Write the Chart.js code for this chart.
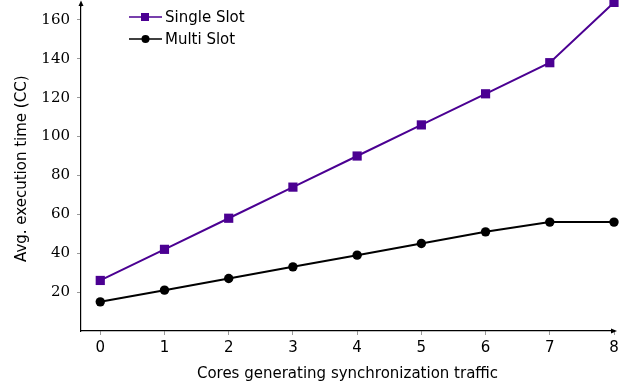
<!DOCTYPE html>
<html><head><meta charset="utf-8">
<script src="https://cdn.jsdelivr.net/npm/chart.js@4/dist/chart.umd.min.js"></script>
<style>html,body{margin:0;padding:0;background:#fff}#wrap{width:632px;height:387px}</style>
</head><body><div id="wrap"><canvas id="c"></canvas></div>
<script>
const categories = [0, 1, 2, 3, 4, 5, 6, 7, 8];
const singleSlot = [26, 42, 58, 74, 90, 106, 122, 138, 169];
const multiSlot = [15, 21, 27, 33, 39, 45, 51, 56, 56];
const yTicks = [20, 40, 60, 80, 100, 120, 140, 160];
const seriesNames = ['Single Slot', 'Multi Slot'];
const purple = '#4b0092';

const arrows = {
  id: 'arrows',
  afterDraw(chart) {
    const ctx = chart.ctx, a = chart.chartArea;
    ctx.save();
    ctx.fillStyle = '#000';
    ctx.strokeStyle = '#000'; ctx.lineWidth = 1.2;
    ctx.beginPath(); ctx.moveTo(a.left, a.top); ctx.lineTo(a.left, 4); ctx.stroke();
    ctx.beginPath();
    ctx.moveTo(a.left, 0.5); ctx.lineTo(a.left - 2.5, 6); ctx.lineTo(a.left + 2.5, 6); ctx.closePath(); ctx.fill();
    ctx.beginPath();
    ctx.moveTo(a.right + 3, a.bottom); ctx.lineTo(a.right - 3, a.bottom - 2.5); ctx.lineTo(a.right - 3, a.bottom + 2.5); ctx.closePath(); ctx.fill();
    const items = [{c: purple, s: 'rect', y: 17}, {c: '#000', s: 'circle', y: 39}];
    ctx.font = '15px "DejaVu Sans", sans-serif';
    ctx.textBaseline = 'middle';
    items.forEach((it, i) => {
      ctx.strokeStyle = it.c; ctx.lineWidth = 1.3;
      ctx.beginPath(); ctx.moveTo(129, it.y); ctx.lineTo(162, it.y); ctx.stroke();
      ctx.fillStyle = it.c;
      if (it.s === 'rect') ctx.fillRect(141, it.y - 4, 8, 8);
      else { ctx.beginPath(); ctx.arc(145.5, it.y, 4, 0, Math.PI * 2); ctx.fill(); }
      ctx.fillStyle = '#000';
      ctx.fillText(seriesNames[i], 165, it.y + 1);
    });
    ctx.restore();
  }
};

new Chart(document.getElementById('c'), {
  type: 'line',
  data: {
    datasets: [
      { label: seriesNames[0], data: categories.map((x, i) => ({x, y: singleSlot[i]})), borderColor: purple, backgroundColor: purple, borderWidth: 2, pointStyle: 'rect', pointRadius: 6.5, pointHoverRadius: 6.5, pointBorderWidth: 0, clip: false },
      { label: seriesNames[1], data: categories.map((x, i) => ({x, y: multiSlot[i]})), borderColor: '#000', backgroundColor: '#000', borderWidth: 2, pointStyle: 'circle', pointRadius: 4.7, pointHoverRadius: 4.7, pointBorderWidth: 0, clip: false }
    ]
  },
  options: {
    responsive: true, maintainAspectRatio: false, animation: false,
    layout: { padding: { top: 0, right: 18, left: 0, bottom: 0 } },
    plugins: { legend: { display: false }, tooltip: { enabled: false } },
    scales: {
      x: {
        type: 'linear', min: -0.3, max: 8,
        afterFit(s) { s.height = 56; s.paddingLeft = 0; s.paddingRight = 0; },
        afterBuildTicks(s) { s.ticks = categories.map(v => ({value: v})); },
        border: { display: true, color: '#000', width: 1.2 },
        grid: { drawOnChartArea: false, drawTicks: true, tickLength: 4, color: '#999' },
        ticks: { color: '#000', padding: 4, font: { family: '"DejaVu Sans", sans-serif', size: 15 } },
        title: { display: true, text: 'Cores generating synchronization traffic', color: '#000', font: { family: '"DejaVu Sans", sans-serif', size: 15 }, padding: { top: 4, bottom: 4 } }
      },
      y: {
        min: 0, max: 166.9,
        afterFit(s) { s.width = 81; s.paddingTop = 0; s.paddingBottom = 0; },
        afterBuildTicks(s) { s.ticks = yTicks.map(v => ({value: v})); },
        border: { display: true, color: '#000', width: 1.2 },
        grid: { drawOnChartArea: false, drawTicks: true, tickLength: 4, color: '#999' },
        ticks: { color: '#000', padding: 7, font: { family: '"DejaVu Serif", serif', size: 15 } },
        title: { display: true, text: 'Avg. execution time (CC)', color: '#000', font: { family: '"DejaVu Sans", sans-serif', size: 15 }, padding: { top: 13, bottom: 4 } }
      }
    }
  },
  plugins: [arrows]
});
</script></body></html>
